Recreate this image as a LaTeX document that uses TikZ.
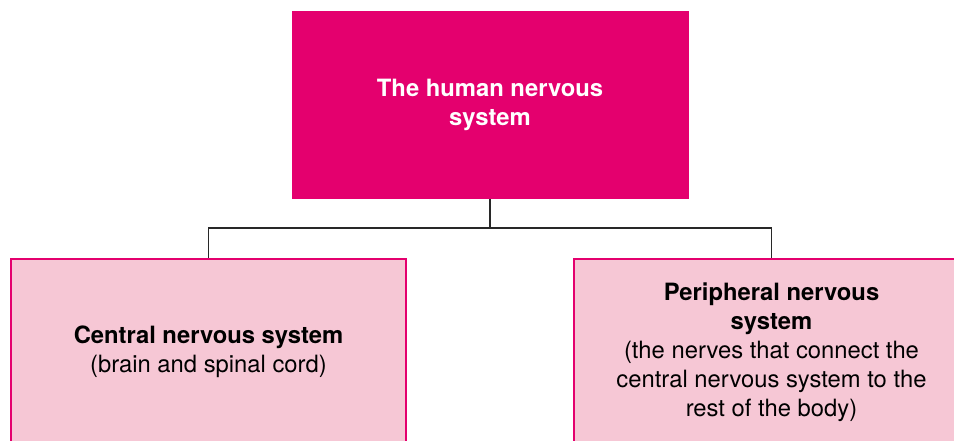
\documentclass[tikz,border=0pt]{standalone}
\usepackage{fontspec}
\setmainfont{TeX Gyre Heros}
\usetikzlibrary{positioning}
\definecolor{magenta}{RGB}{228,0,110}
\definecolor{rosa}{RGB}{246,199,213}
\definecolor{grisl}{RGB}{40,40,40}
\tikzset{
  raiz/.style={fill=magenta, minimum width=397pt, minimum height=188pt, inner sep=0pt, align=center, text=white, font=\fontsize{23.8}{29.5}\selectfont\bfseries},
  rama/.style={draw=magenta, line width=2pt, fill=rosa, minimum width=395pt, minimum height=186pt, inner sep=0pt, align=center, text=black, font=\fontsize{23.8}{29}\selectfont},
  con/.style={draw=grisl, line width=1.2pt},
}
\begin{document}
\begin{tikzpicture}[x=1pt, y=-1pt]
  \useasboundingbox (0,0) rectangle (954,441);
  \clip (0,0) rectangle (954,441);
  \node[raiz] (sn) at (490,105) {The human nervous\\ system};
  \node[rama] (snc) at (208.5,352) {\textbf{Central nervous system}\\ (brain and spinal cord)};
  \node[rama] (snp) at (771.5,352) {\textbf{Peripheral nervous}\\ \textbf{system}\\ (the nerves that connect the\\ central nervous system to the\\ rest of the body)};
  \coordinate (bif) at (490,228);
  \draw[con] (sn.south) -- (bif);
  \draw[con] (bif) -| (snc.north);
  \draw[con] (bif) -| (snp.north);
\end{tikzpicture}
\end{document}
